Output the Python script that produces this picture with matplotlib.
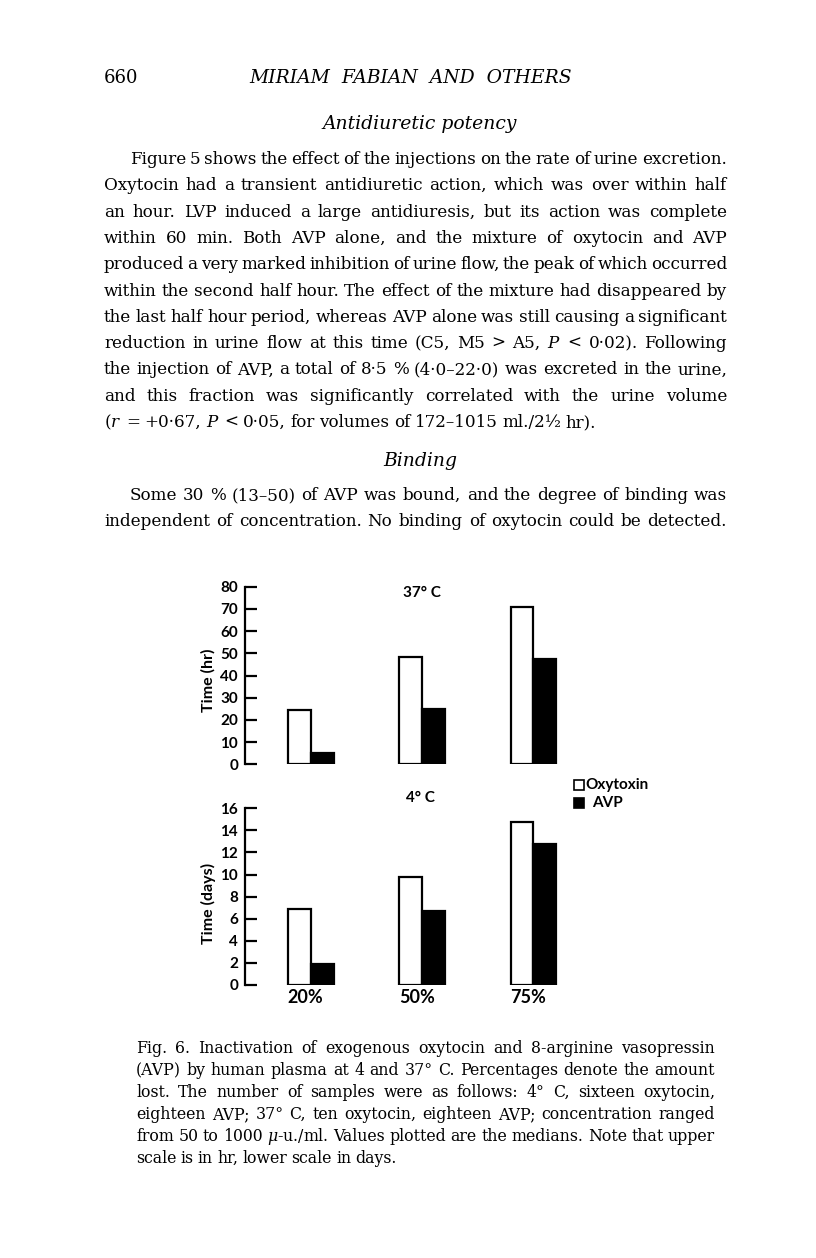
import matplotlib
matplotlib.use("Agg")
import matplotlib.pyplot as plt
from matplotlib.patches import Rectangle

W, H = 816, 1258
SERIF = "DejaVu Serif"
SANS = "Lato"
plt.rcParams["mathtext.fontset"] = "dejavuserif"

# chart values (medians)
groups = ["20%", "50%", "75%"]
oxy_hr = [24.3, 48.2, 71]
avp_hr = [5.0, 24.8, 47.5]
oxy_days = [6.9, 9.8, 14.8]
avp_days = [1.9, 6.7, 12.8]
ticks_hr = [0, 10, 20, 30, 40, 50, 60, 70, 80]
ticks_days = [0, 2, 4, 6, 8, 10, 12, 14, 16]

para1 = [
    "Figure 5 shows the effect of the injections on the rate of urine excretion.",
    "Oxytocin had a transient antidiuretic action, which was over within half",
    "an hour. LVP induced a large antidiuresis, but its action was complete",
    "within 60 min. Both AVP alone, and the mixture of oxytocin and AVP",
    "produced a very marked inhibition of urine flow, the peak of which occurred",
    "within the second half hour. The effect of the mixture had disappeared by",
    "the last half hour period, whereas AVP alone was still causing a significant",
    "reduction in urine flow at this time (C5, M5 > A5, $P$ < 0·02). Following",
    "the injection of AVP, a total of 8·5 % (4·0–22·0) was excreted in the urine,",
    "and this fraction was significantly correlated with the urine volume",
    "($r$ = +0·67, $P$ < 0·05, for volumes of 172–1015 ml./2½ hr).",
]
para2 = [
    "Some 30 % (13–50) of AVP was bound, and the degree of binding was",
    "independent of concentration. No binding of oxytocin could be detected.",
]
caption = [
    "Fig. 6. Inactivation of exogenous oxytocin and 8-arginine vasopressin",
    "(AVP) by human plasma at 4 and 37° C. Percentages denote the amount",
    "lost. The number of samples were as follows: 4° C, sixteen oxytocin,",
    "eighteen AVP; 37° C, ten oxytocin, eighteen AVP; concentration ranged",
    "from 50 to 1000 $\\mu$-u./ml. Values plotted are the medians. Note that upper",
    "scale is in hr, lower scale in days.",
]

fig = plt.figure(figsize=(W / 100, H / 100), dpi=100)
r = fig.canvas.get_renderer()


def fy(y):
    return 1 - y / H


def put_line(text, y, x0, x1, size, justify=True):
    # place words one by one so the line fills x0..x1 like the printed page
    words = text.split(" ")
    objs = [fig.text(0, fy(y), w, fontsize=size, family=SERIF, va="baseline") for w in words]
    widths = [o.get_window_extent(r).width for o in objs]
    if justify and len(words) > 1:
        gap = (x1 - x0 - sum(widths)) / (len(words) - 1)
    else:
        gap = size * 0.38
    x = x0
    for o, w in zip(objs, widths):
        o.set_x(x / W)
        x += w + gap


# running head
fig.text(104 / W, fy(83), "660", fontsize=13, family=SERIF, va="baseline")
fig.text(411 / W, fy(83), "MIRIAM  FABIAN  AND  OTHERS", fontsize=13.5, family=SERIF,
         style="italic", ha="center", va="baseline")

fig.text(420 / W, fy(129), "Antidiuretic potency", fontsize=13.5, family=SERIF,
         style="italic", ha="center", va="baseline")
for i, line in enumerate(para1):
    x0 = 130 if i == 0 else 104
    put_line(line, 164 + i * 26.3, x0, 727, 12.1, justify=(i < len(para1) - 1))

fig.text(420 / W, fy(466), "Binding", fontsize=13.5, family=SERIF,
         style="italic", ha="center", va="baseline")
for i, line in enumerate(para2):
    x0 = 130 if i == 0 else 104
    put_line(line, 500 + i * 26.3, x0, 727, 12.1)

for i, line in enumerate(caption):
    put_line(line, 1053 + i * 22, 136, 715, 11.3, justify=(i < len(caption) - 1))


# bar charts
def bar_axes(bottom_px, top_px, ymax, ticks, oxy, avp):
    ax = fig.add_axes([245 / W, fy(bottom_px), 335 / W, (bottom_px - top_px) / H])
    xs = range(len(groups))
    bw = 0.205
    ax.bar([x - bw / 2 for x in xs], oxy, bw, color="white", edgecolor="black", linewidth=1.6)
    ax.bar([x + bw / 2 for x in xs], avp, bw, color="black", edgecolor="black", linewidth=1.6)
    ax.set_xlim(-0.595, 2.42)
    ax.set_ylim(0, ymax)
    for s in ["top", "right", "bottom"]:
        ax.spines[s].set_visible(False)
    ax.spines["left"].set_linewidth(1.6)
    ax.set_yticks(ticks)
    ax.tick_params(axis="y", direction="in", length=8.5, width=1.6, pad=5)
    for lab in ax.get_yticklabels():
        lab.set_fontfamily(SANS)
        lab.set_fontweight("bold")
        lab.set_fontsize(11)
    ax.patch.set_alpha(0)
    return ax


ax1 = bar_axes(764.3, 586.7, 80, ticks_hr, oxy_hr, avp_hr)
ax1.set_xticks([])

ax2 = bar_axes(985, 808.3, 16, ticks_days, oxy_days, avp_days)
ax2.set_xticks([x - 0.05 for x in range(len(groups))])
ax2.set_xticklabels(groups, fontfamily=SANS, fontweight="bold", fontsize=13)
ax2.tick_params(axis="x", length=0, pad=3)

fig.text(208 / W, fy(680), "Time (hr)", rotation=90, fontsize=11.5, family=SANS,
         weight="bold", ha="center", va="center")
fig.text(208 / W, fy(903), "Time (days)", rotation=90, fontsize=11.5, family=SANS,
         weight="bold", ha="center", va="center")
fig.text(422 / W, fy(593), "37° C", fontsize=11, family=SANS, weight="bold",
         ha="center", va="center")
fig.text(420 / W, fy(798), "4° C", fontsize=11, family=SANS, weight="bold",
         ha="center", va="center")

# legend
fig.add_artist(Rectangle((574 / W, fy(790)), 10 / W, 10 / H, transform=fig.transFigure,
                         facecolor="white", edgecolor="black", linewidth=1.2))
fig.add_artist(Rectangle((574 / W, fy(808)), 10 / W, 10 / H, transform=fig.transFigure,
                         facecolor="black", edgecolor="black", linewidth=1.2))
fig.text(585 / W, fy(785), "Oxytoxin", fontsize=11, family=SANS, weight="bold", va="center")
fig.text(592 / W, fy(803), "AVP", fontsize=11, family=SANS, weight="bold", va="center")

fig.savefig("out.png", dpi=100)
